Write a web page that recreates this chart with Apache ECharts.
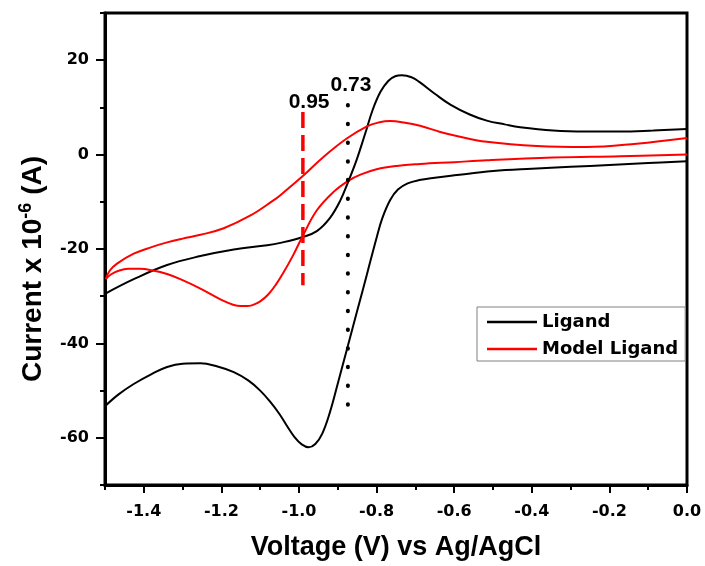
<!DOCTYPE html>
<html><head><meta charset="utf-8">
<script src="https://cdn.jsdelivr.net/npm/echarts@6/dist/echarts.min.js"></script>
<style>html,body{margin:0;padding:0;background:#fff}#c{width:705px;height:566px}</style>
</head><body><div id="c"></div>
<script>
// Ligand: reduction sweep (0 V -> -1.5 V)
const ligandRedV = [0,-0.1,-0.2,-0.3,-0.4,-0.5,-0.6,-0.65,-0.69,-0.72,-0.745,-0.765,-0.785,-0.80,-0.825,-0.85,-0.875,-0.90,-0.92,-0.94,-0.958,-0.975,-0.993,-1.012,-1.03,-1.05,-1.075,-1.10,-1.13,-1.168,-1.21,-1.254,-1.30,-1.34,-1.38,-1.426,-1.465,-1.50];
const ligandRedI = [-1.4,-1.8,-2.2,-2.6,-3.0,-3.5,-4.4,-4.9,-5.4,-6.1,-7.4,-9.6,-13.4,-17.6,-25.4,-33.1,-40.8,-48.5,-54.5,-59.1,-61.3,-62.0,-61.4,-59.8,-57.6,-55.0,-52.3,-50.0,-47.9,-46.1,-44.9,-44.2,-44.3,-45.0,-46.5,-48.6,-50.8,-53.3];
// Ligand: oxidation sweep (-1.5 V -> 0 V)
const ligandOxV = [-1.50,-1.426,-1.34,-1.254,-1.168,-1.082,-1.048,-0.992,-0.954,-0.92,-0.894,-0.872,-0.851,-0.83,-0.81,-0.79,-0.77,-0.752,-0.735,-0.71,-0.69,-0.65,-0.61,-0.56,-0.516,-0.47,-0.43,-0.345,-0.26,-0.173,-0.087,0];
const ligandOxI = [-29.5,-26.4,-23.4,-21.5,-20.1,-19.2,-18.7,-17.5,-16.2,-13.4,-9.8,-5.5,-1.0,4.3,9.5,13.3,15.6,16.6,16.8,16.4,15.4,12.9,10.6,8.5,7.2,6.4,5.8,5.1,4.9,4.9,5.1,5.4];
// Model Ligand: reduction sweep
const modelRedV = [0,-0.173,-0.345,-0.516,-0.60,-0.688,-0.748,-0.80,-0.84,-0.872,-0.911,-0.954,-0.992,-1.015,-1.04,-1.06,-1.08,-1.10,-1.12,-1.134,-1.15,-1.17,-1.20,-1.254,-1.30,-1.34,-1.38,-1.409,-1.44,-1.465,-1.485,-1.498];
const modelRedI = [0.0,-0.36,-0.64,-1.2,-1.6,-2.0,-2.4,-3.1,-4.2,-5.5,-7.9,-11.8,-17.5,-21.3,-25.0,-27.6,-29.7,-31.1,-31.9,-32.1,-32.1,-31.8,-30.8,-28.4,-26.6,-25.3,-24.5,-24.2,-24.2,-24.6,-25.4,-26.4];
// Model Ligand: oxidation sweep
const modelOxV = [-1.498,-1.488,-1.469,-1.426,-1.38,-1.34,-1.30,-1.254,-1.194,-1.125,-1.066,-1.048,-0.988,-0.937,-0.877,-0.825,-0.795,-0.765,-0.73,-0.688,-0.636,-0.602,-0.516,-0.387,-0.259,-0.13,0];
const modelOxI = [-26.4,-24.6,-23.1,-21.0,-19.6,-18.6,-17.8,-17.0,-15.6,-12.9,-9.7,-8.6,-4.4,-0.5,3.4,6.0,6.8,7.1,6.8,6.1,4.8,4.1,2.7,1.8,1.6,2.3,3.5];
// Guide lines and their labels
const redGuideV = [-0.99,-0.99];
const redGuideI = [9.0,-27.7];
const blackGuideV = [-0.874,-0.874];
const blackGuideI = [10.5,-53.2];
const guideLabels = ['0.95','0.73'];
const guideLabelV = [-0.974,-0.866];
const guideLabelI = [11.0,14.7];
// Axis ticks
const xMajor = [-1.4,-1.2,-1.0,-0.8,-0.6,-0.4,-0.2,0.0];
const xMinor = [-1.5,-1.3,-1.1,-0.9,-0.7,-0.5,-0.3,-0.1];
const yMajor = [-60,-40,-20,0,20];
const yMinor = [-70,-50,-30,-10,10,30];

const zip = (a,b)=>a.map((v,i)=>[v,b[i]]);
const tickFont = {fontFamily:'DejaVu Sans',fontWeight:'bold',fontSize:16,color:'#000'};
const curve = (name,color,v,i)=>({name,type:'line',data:zip(v,i),smooth:0.4,showSymbol:false,symbol:'none',
  itemStyle:{color},lineStyle:{color,width:2},z:3});
const chart = echarts.init(document.getElementById('c'));
chart.setOption({
  animation:false,
  backgroundColor:'#fff',
  grid:{left:105,right:18,top:13,bottom:81,show:true,borderColor:'#000',borderWidth:3,backgroundColor:'transparent'},
  legend:{
    data:['Ligand','Model Ligand'],
    orient:'vertical',left:477,top:307,
    padding:[6,7,3,10],itemGap:9,
    itemWidth:50,itemHeight:2.5,icon:'rect',
    borderColor:'#808080',borderWidth:1,backgroundColor:'#fff',
    textStyle:{fontFamily:'DejaVu Sans',fontWeight:'bold',fontSize:18,color:'#000',lineHeight:18}
  },
  xAxis:[{
    type:'value',min:-1.5,max:0,position:'bottom',
    name:'Voltage (V) vs Ag/AgCl',nameLocation:'middle',nameGap:49,
    nameTextStyle:{fontFamily:'Liberation Sans',fontWeight:'bold',fontSize:27,color:'#000'},
    axisLine:{show:true,onZero:false,lineStyle:{color:'#000',width:3}},
    axisTick:{show:true,customValues:xMajor,length:8,lineStyle:{color:'#000',width:2}},
    axisLabel:{show:true,customValues:xMajor,margin:19,formatter:v=>v.toFixed(1),...tickFont},
    splitLine:{show:false}
  },{
    type:'value',min:-1.5,max:0,position:'bottom',
    axisLine:{show:false,onZero:false},
    axisTick:{show:true,customValues:xMinor,length:5,lineStyle:{color:'#000',width:2}},
    axisLabel:{show:false},splitLine:{show:false}
  }],
  yAxis:[{
    type:'value',min:-70,max:30,position:'left',
    name:'{a|Current x 10}{s|-6}{a| (A)}',nameLocation:'middle',nameGap:56,nameRotate:90,
    nameTextStyle:{padding:[0,40,0,0],rich:{
      a:{fontFamily:'Liberation Sans',fontWeight:'bold',fontSize:28,color:'#000'},
      s:{fontFamily:'Liberation Sans',fontWeight:'bold',fontSize:18,color:'#000',verticalAlign:'top',padding:[0,0,14,0]}
    }},
    axisLine:{show:true,onZero:false,lineStyle:{color:'#000',width:3}},
    axisTick:{show:true,customValues:yMajor,length:9,lineStyle:{color:'#000',width:2}},
    axisLabel:{show:true,customValues:yMajor,margin:16,formatter:v=>String(v),...tickFont},
    splitLine:{show:false}
  },{
    type:'value',min:-70,max:30,position:'left',
    axisLine:{show:false,onZero:false},
    axisTick:{show:true,customValues:yMinor,length:5,lineStyle:{color:'#000',width:2}},
    axisLabel:{show:false},splitLine:{show:false}
  }],
  series:[
    curve('Ligand','#000',ligandRedV,ligandRedI),
    curve('Ligand','#000',ligandOxV,ligandOxI),
    curve('Model Ligand','#ff0000',modelRedV,modelRedI),
    curve('Model Ligand','#ff0000',modelOxV,modelOxI),
    {name:'guideRed',type:'line',data:zip(redGuideV,redGuideI),showSymbol:false,symbol:'none',
     lineStyle:{color:'#ff0000',width:3.5,type:[16,7]},z:4},
    {name:'guideBlack',type:'line',data:zip(blackGuideV,blackGuideI),showSymbol:false,symbol:'none',
     lineStyle:{color:'#000',width:4,type:[0.5,18.2],cap:'round'},z:4},
    {name:'guideText',type:'scatter',symbolSize:0,itemStyle:{color:'#000',opacity:1},
     data:guideLabels.map((t,i)=>({value:[guideLabelV[i],guideLabelI[i]],name:t})),
     label:{show:true,position:'inside',formatter:p=>p.name,fontFamily:'Liberation Sans',fontWeight:'bold',fontSize:21,
            color:'#000',textBorderWidth:0,textBorderColor:'transparent',textShadowBlur:0,opacity:1},z:5}
  ]
});
</script></body></html>
